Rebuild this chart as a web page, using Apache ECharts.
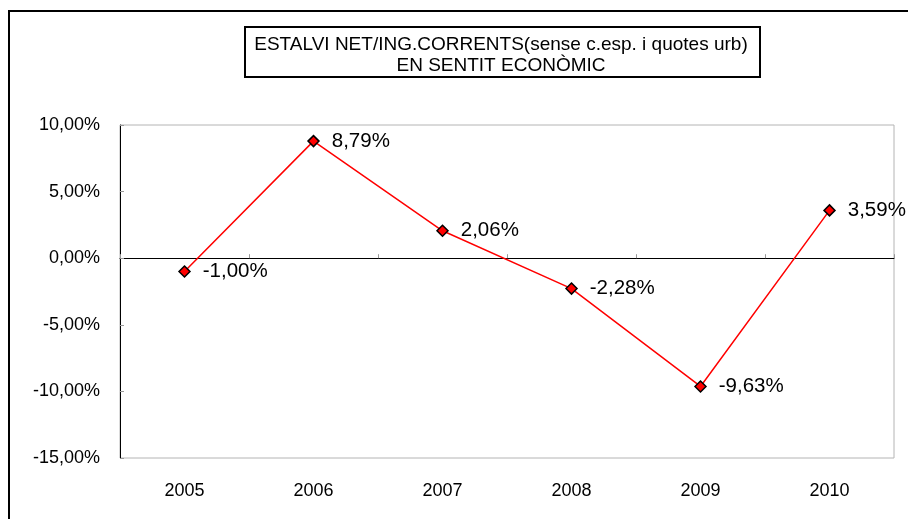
<!DOCTYPE html>
<html>
<head>
<meta charset="utf-8">
<script src="https://cdn.jsdelivr.net/npm/echarts@6/dist/echarts.min.js"></script>
<style>
  html, body { margin: 0; padding: 0; background: #fff; }
  #main { width: 908px; height: 519px; }
</style>
</head>
<body>
<div id="main"></div>
<script>
var years = ['2005', '2006', '2007', '2008', '2009', '2010'];
var ratio = [-1.00, 8.79, 2.06, -2.28, -9.63, 3.59];
var titleLines = ['ESTALVI NET/ING.CORRENTS(sense c.esp. i quotes urb)', 'EN SENTIT ECONÒMIC'];

function pct(v) {
    return v.toFixed(2).replace('.', ',') + '%';
}

var myChart = echarts.init(document.getElementById('main'), null, { renderer: 'canvas' });

var option = {
    animation: false,
    textStyle: { fontFamily: 'Liberation Sans, Arial, sans-serif' },
    grid: {
        left: 120, right: 14, top: 125, bottom: 61,
        show: true, borderColor: '#b4b4b4', borderWidth: 1
    },
    graphic: [
        {
            type: 'rect',
            shape: { x: 9, y: 11, width: 1000, height: 1000 },
            style: { fill: 'none', stroke: '#000', lineWidth: 2 }
        },
        {
            type: 'rect',
            shape: { x: 245, y: 27, width: 515, height: 50 },
            style: { fill: '#fff', stroke: '#000', lineWidth: 2 }
        },
        {
            type: 'text',
            x: 501, y: 35,
            style: {
                text: titleLines.join('\n'),
                align: 'center',
                fontSize: 19,
                lineHeight: 20.5,
                fontFamily: 'Liberation Sans, Arial, sans-serif',
                fill: '#000'
            }
        }
    ],
    xAxis: [
        {
            type: 'category',
            data: years,
            position: 'bottom',
            axisLine: { show: false, onZero: false },
            axisTick: { show: false },
            axisLabel: { color: '#000', fontSize: 18, margin: 24 }
        },
        {
            type: 'category',
            data: years,
            position: 'bottom',
            axisLine: { show: true, onZero: true, lineStyle: { color: '#000', width: 1 } },
            axisTick: { show: true, inside: true, length: 4, lineStyle: { color: '#999' } },
            axisLabel: { show: false }
        }
    ],
    yAxis: {
        type: 'value',
        min: -15, max: 10, interval: 5,
        axisLine: { show: true, lineStyle: { color: '#000', width: 1 } },
        axisTick: { show: true, inside: true, length: 4, lineStyle: { color: '#999' } },
        splitLine: { show: false },
        axisLabel: {
            color: '#000', fontSize: 18, margin: 20,
            formatter: function (v) { return pct(v); }
        }
    },
    series: [
        {
            type: 'line',
            data: ratio,
            xAxisIndex: 0,
            symbol: 'diamond',
            symbolSize: 11,
            lineStyle: { color: '#ff0000', width: 1.5 },
            itemStyle: { color: '#ff0000', borderColor: '#000', borderWidth: 1.5 },
            label: {
                show: true,
                position: 'right',
                distance: 12,
                color: '#000',
                fontSize: 20.5,
                formatter: function (p) { return pct(p.value); }
            }
        }
    ]
};

myChart.setOption(option);
</script>
</body>
</html>
